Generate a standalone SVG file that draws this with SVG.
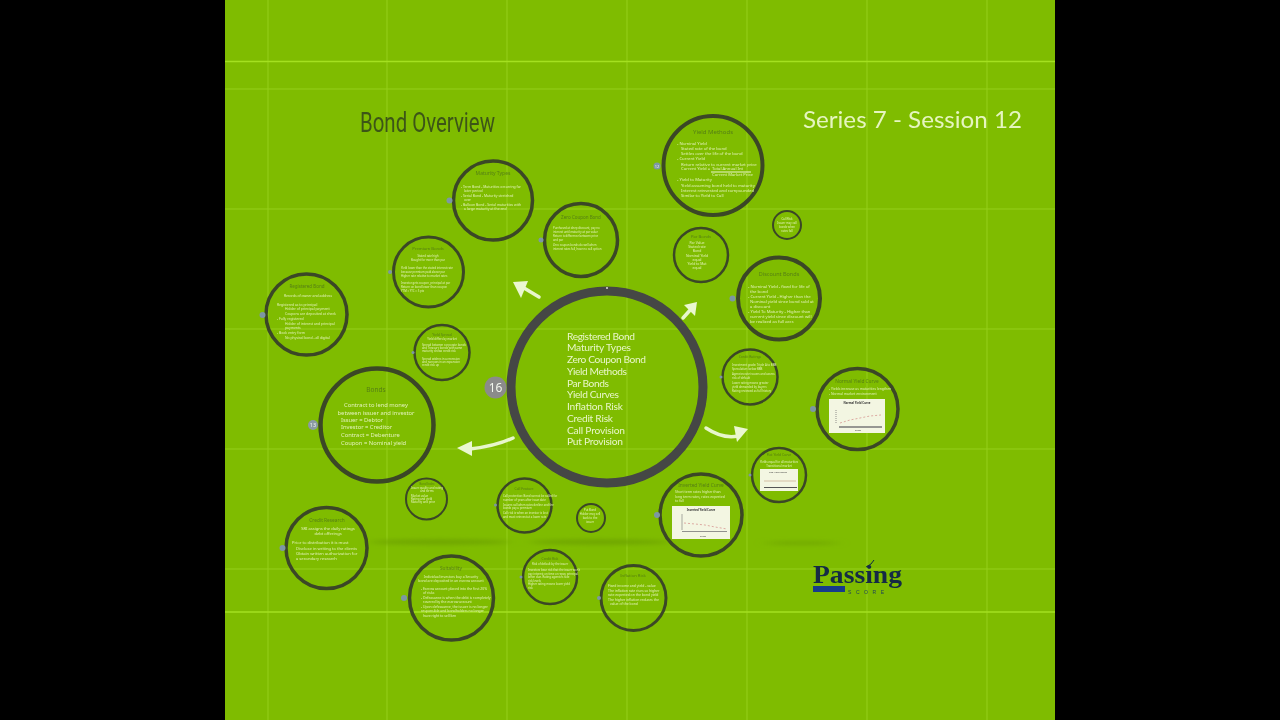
<svg xmlns="http://www.w3.org/2000/svg" width="1280" height="720" viewBox="0 0 1280 720">
<style>
text{font-family:"Noto Sans","Liberation Sans",sans-serif;fill:#e2f2b8}
.ring{fill:none;stroke:#3b4726}
.big{fill:none;stroke:#444644;stroke-width:9}
.title{fill:#557f12;text-anchor:middle}
.mid{text-anchor:middle}
.hero{font-family:"Lato",sans-serif;fill:#e8f6c8}
.hd{font-family:"Lato",sans-serif;fill:#e6f5c0}
.badge{fill:#7d97a4}
.bt{fill:#f2f6ee;text-anchor:middle}
.grid{stroke:#a4dc2c;stroke-width:1;opacity:.6}
.grid2{stroke:#a4e020;stroke-width:1.500}
.arrow{fill:none;stroke:#e8f6cc;stroke-width:3.500;stroke-linecap:round}
.head{fill:#eaf7d0}
.chart{fill:#f3f6e2}
.s42{font-size:4.2px}.s47{font-size:4.6px}.s36{font-size:3.4px}.s3{font-size:2.8px}
</style>
<defs>
<filter id="blur" x="-20%" y="-400%" width="140%" height="900%"><feGaussianBlur stdDeviation="6 2"/></filter>
<filter id="soft" filterUnits="userSpaceOnUse" x="0" y="0" width="1280" height="720"><feGaussianBlur stdDeviation=".35"/></filter>
</defs>
<rect width="1280" height="720" fill="#000"/>
<rect x="225" width="830" height="720" fill="#7fbc00"/>
<g id="grid">
<path class="grid" d="M268 0V720M387 0V720M507 0V720M627 0V720M747 0V720M867 0V720M987 0V720M225 89H1055M225 209H1055M225 329H1055M225 449H1055M225 569H1055"/>
<path class="grid2" d="M225 61.500H1055M225 612H1055"/>
</g>
<g id="shadows" filter="url(#blur)" fill="#6ea404">
<ellipse cx="440" cy="542" rx="70" ry="2.500"/>
<ellipse cx="600" cy="542" rx="70" ry="2.500"/>
<ellipse cx="802" cy="543" rx="38" ry="1.500"/>
</g>
<g id="diagram" filter="url(#soft)">
<text id="heading" x="360" y="132" font-size="27" style="font-family:'Roboto',sans-serif;fill:#3c5518" textLength="135" lengthAdjust="spacingAndGlyphs">Bond Overview</text>
<text id="session" class="hd" x="803" y="128" font-size="24" textLength="219" lengthAdjust="spacingAndGlyphs">Series 7 - Session 12</text>

<g id="connectors">
<path class="arrow" d="M539 297L524 288"/><path class="head" d="M513 282L528 281L521 298Z"/>
<path class="arrow" d="M683 318L692 308"/><path class="head" d="M697 302L695 316L684 305Z"/>
<path class="arrow" d="M706 428C718 436 728 438 738 436"/><path class="head" d="M748 429L734 426L737 442Z"/>
<path class="arrow" d="M513 438C500 444 488 447 470 449"/><path class="head" d="M457 448L472 441L472 456Z"/>
</g>

<g id="center">
<circle class="big" cx="607" cy="387" r="96"/>
<circle cx="607" cy="288" r="1" fill="#ddd"/>
<g font-size="10.200">
<text class="hero" x="567" y="339.500" textLength="68">Registered Bond</text>
<text class="hero" x="567" y="351" textLength="64">Maturity Types</text>
<text class="hero" x="567" y="363" textLength="79">Zero Coupon Bond</text>
<text class="hero" x="567" y="374.500" textLength="60">Yield Methods</text>
<text class="hero" x="567" y="386.500" textLength="42">Par Bonds</text>
<text class="hero" x="567" y="398" textLength="52">Yield Curves</text>
<text class="hero" x="567" y="410" textLength="56">Inflation Risk</text>
<text class="hero" x="567" y="421.500" textLength="46">Credit Risk</text>
<text class="hero" x="567" y="433.500" textLength="58">Call Provision</text>
<text class="hero" x="567" y="445" textLength="56">Put Provision</text>
</g>
<circle cx="495.500" cy="387.500" r="11" fill="#8b8b8b"/>
<text class="bt" x="495.500" y="392" font-size="12">16</text>
</g>

<g id="yield-methods">
<circle class="ring" cx="713" cy="165.500" r="49.500" stroke-width="4"/>
<circle class="badge" cx="657" cy="166" r="3.500"/>
<text class="bt" x="657" y="167.500" font-size="4">12</text>
<text class="title" x="713" y="134" font-size="6">Yield Methods</text>
<g class="s42">
<text x="677" y="145">- Nominal Yield</text>
<text x="681" y="150">Stated rate of the bond</text>
<text x="681" y="155">Settles over the life of the bond</text>
<text x="677" y="160">- Current Yield</text>
<text x="681" y="166">Return relative to current market price</text>
<text x="681" y="170">Current Yield =</text>
<text x="712" y="170">Total Annual Int</text>
<text x="712" y="176">Current Market Price</text>
<text x="677" y="181">- Yield to Maturity</text>
<text x="681" y="187">Yield assuming bond held to maturity</text>
<text x="681" y="192">Interest reinvested and compounded</text>
<text x="681" y="197">Similar to Yield to Call</text>
</g>
<path d="M711 172H751" stroke="#eaf6cc" stroke-width="1"/>
</g>

<g id="small-top-right">
<circle class="ring" cx="787" cy="225" r="14" stroke-width="2"/>
<g class="s3">
<text class="mid" x="787" y="220">Call Risk</text>
<text class="mid" x="787" y="224">Issuer may call</text>
<text class="mid" x="787" y="228">bonds when</text>
<text class="mid" x="787" y="232">rates fall</text>
</g>
</g>

<g id="par-bonds">
<circle class="ring" cx="701" cy="255" r="27" stroke-width="2.500"/>
<text class="title s42" x="701" y="238">Par Bonds</text>
<g class="s36">
<text class="mid" x="697" y="244">Par Value</text>
<text class="mid" x="697" y="248">Stated rate</text>
<text class="mid" x="697" y="252">Bond</text>
<text class="mid" x="697" y="257">Nominal Yield</text>
<text class="mid" x="697" y="261">equal</text>
<text class="mid" x="697" y="265">Yield to Mat</text>
<text class="mid" x="697" y="269">equal</text>
</g>
</g>

<g id="discount-bonds">
<circle class="ring" cx="779" cy="298.500" r="41" stroke-width="4"/>
<circle class="badge" cx="732.500" cy="298.500" r="3"/>
<text class="title" x="779" y="276" font-size="5.500">Discount Bonds</text>
<g class="s42">
<text x="748" y="288">- Nominal Yield - fixed for life of</text>
<text x="750" y="293">the bond</text>
<text x="748" y="298">- Current Yield - Higher than the</text>
<text x="750" y="303">Nominal yield since bond sold at</text>
<text x="750" y="308">a discount</text>
<text x="748" y="313">- Yield To Maturity - Higher than</text>
<text x="750" y="318">current yield since discount will</text>
<text x="750" y="323">be realized as full accr.</text>
</g>
</g>

<g id="maturity-types">
<circle class="ring" cx="493" cy="200.500" r="39.500" stroke-width="3.500"/>
<circle class="badge" cx="449.500" cy="200.500" r="3"/>
<text class="title" x="493" y="175" font-size="5">Maturity Types</text>
<g class="s36">
<text x="461" y="188">- Term Bond - Maturities occurring far</text>
<text x="464" y="192">later period</text>
<text x="461" y="197">- Serial Bond - Maturity stretched</text>
<text x="464" y="201">over</text>
<text x="461" y="206">- Balloon Bond - Serial maturities with</text>
<text x="464" y="210">a large maturity at the end</text>
</g>
</g>

<g id="zero-coupon">
<circle class="ring" cx="581" cy="240" r="36.500" stroke-width="3.500"/>
<circle class="badge" cx="541" cy="240" r="2.500"/>
<text class="title" x="581" y="219" font-size="4.500">Zero Coupon Bond</text>
<g class="s3">
<text x="553" y="229">Purchased at deep discount, pay no</text>
<text x="553" y="233">interest until maturity at par value</text>
<text x="553" y="237">Return is difference between price</text>
<text x="553" y="241">and par</text>
<text x="553" y="246">Zero coupon bonds do well when</text>
<text x="553" y="250">interest rates fall, have no call option</text>
</g>
</g>

<g id="premium-bonds">
<circle class="ring" cx="428.500" cy="272" r="35" stroke-width="3"/>
<circle class="badge" cx="390" cy="272" r="2"/>
<text class="title" x="428" y="250" font-size="4.200">Premium Bonds</text>
<g class="s3">
<text class="mid" x="428" y="257">Stated rate high</text>
<text class="mid" x="428" y="261">Bought for more than par</text>
<text x="401" y="269">Yield lower than the stated interest rate</text>
<text x="401" y="273">because premium paid above par</text>
<text x="401" y="277">Higher rate relative to market rates</text>
<text x="401" y="284">Investor gets coupon, principal at par</text>
<text x="401" y="288">Return on bond lower than coupon</text>
<text x="401" y="292">YTM = YTC = 5 pts</text>
</g>
</g>

<g id="registered-bond">
<circle class="ring" cx="306.500" cy="314.500" r="40.500" stroke-width="3.500"/>
<circle class="badge" cx="262.500" cy="315" r="3"/>
<text class="title" x="307" y="288" font-size="4.500">Registered Bond</text>
<g class="s36">
<text class="mid" x="308" y="297">Records of owner and address</text>
<text x="277" y="306">Registered as to principal</text>
<text x="285" y="310">Holder of principal payment</text>
<text x="285" y="315">Coupons are deposited at check</text>
<text x="277" y="320">- Fully registered</text>
<text x="285" y="325">Holder of interest and principal</text>
<text x="285" y="329">payments</text>
<text x="277" y="334">- Book entry form</text>
<text x="285" y="339">No physical bond - all digital</text>
</g>
</g>

<g id="inflation-notes">
<circle class="ring" cx="442" cy="352.500" r="27.500" stroke-width="2.500"/>
<circle class="badge" cx="413" cy="352.500" r="1.500"/>
<text class="title s36" x="442" y="336">Yield Spread</text>
<g class="s3">
<text class="mid" x="442" y="340">Yield differs by market</text>
<text x="422" y="346">Spread between corporate bonds</text>
<text x="422" y="349">and Treasury bonds with same</text>
<text x="422" y="352">maturity shows credit risk</text>
<text x="422" y="360">Spread widens in a recession</text>
<text x="422" y="363">and narrows in an expansion</text>
<text x="422" y="366">credit risk up</text>
</g>
</g>

<g id="bonds">
<circle class="ring" cx="377" cy="425" r="56.500" stroke-width="4.500"/>
<circle cx="313" cy="425" r="5" fill="#8b9aa3"/>
<text class="bt" x="313" y="427" font-size="5.500">13</text>
<text class="title" x="376" y="392" font-size="6.500">Bonds</text>
<g font-size="5.800">
<text class="mid" x="376" y="406.500">Contract to lend money</text>
<text class="mid" x="376" y="414.500">between issuer and investor</text>
<text x="341" y="421.500">Issuer = Debtor</text>
<text x="341" y="429">Investor = Creditor</text>
<text x="341" y="437">Contract = Debenture</text>
<text x="341" y="444.500">Coupon = Nominal yield</text>
</g>
</g>

<g id="normal-yield-curve">
<circle class="ring" cx="857.500" cy="409" r="40.500" stroke-width="3.500"/>
<circle class="badge" cx="813" cy="409" r="3"/>
<text class="title" x="857" y="383" font-size="4.800">Normal Yield Curve</text>
<g class="s36">
<text x="829" y="390">- Yields increase as maturities lengthen</text>
<text x="829" y="395">- Normal market environment</text>
</g>
<rect class="chart" x="829" y="399" width="56" height="34"/>
<text class="mid" x="857" y="404" font-size="2.800" font-weight="bold" style="fill:#333">Normal Yield Curve</text>
<path d="M836 410V424" stroke="#777" stroke-width=".8" stroke-dasharray="1 1"/>
<path d="M839 427H882" stroke="#777" stroke-width="1.500"/>
<path d="M840 423L850 420L860 418L870 416L881 415" stroke="#c77" stroke-width=".6" stroke-dasharray="2 2" fill="none"/>
<text class="mid" x="858" y="431" font-size="2.500" style="fill:#333">Time</text>
</g>

<g id="call-provision">
<circle class="ring" cx="750" cy="377" r="27.500" stroke-width="2.500"/>
<circle class="badge" cx="721" cy="377" r="1.500"/>
<text class="title s36" x="750" y="358">Credit Ratings</text>
<g class="s3">
<text x="732" y="366">Investment grade: Triple A to BBB</text>
<text x="732" y="370">Speculative: below BBB</text>
<text x="732" y="375">Agencies rate issuers and assess</text>
<text x="732" y="379">risk of default</text>
<text x="732" y="384">Lower rating means greater</text>
<text x="732" y="388">yield demanded by buyers</text>
<text x="732" y="392">Rating reviewed as full history</text>
</g>
</g>

<g id="flat-yield">
<circle class="ring" cx="779" cy="475" r="27" stroke-width="2.500"/>
<circle class="badge" cx="750" cy="475" r="1.500"/>
<text class="title s36" x="779" y="456">Flat Yield Curve</text>
<text class="mid s3" x="779" y="463">Yields equal for all maturities</text>
<text class="mid s3" x="779" y="466.500">Transitional market</text>
<rect class="chart" x="760" y="469" width="38" height="22"/>
<text class="mid" x="778" y="473" font-size="2.500" style="fill:#333">Flat Yield Curve</text>
<path d="M764 481H796" stroke="#c9a98a" stroke-width=".7"/>
<path d="M764 487.500H797" stroke="#555" stroke-width="1"/>
</g>

<g id="inverted-yield">
<circle class="ring" cx="701" cy="515" r="41" stroke-width="3.500"/>
<circle class="badge" cx="657" cy="515" r="3"/>
<text class="title" x="701" y="487" font-size="4.800">Inverted Yield Curve</text>
<g class="s36">
<text x="675" y="493">Short term rates higher than</text>
<text x="675" y="497.500">long term rates, rates expected</text>
<text x="675" y="502">to fall</text>
</g>
<rect class="chart" x="672" y="506" width="58" height="33"/>
<text class="mid" x="701" y="511" font-size="2.800" font-weight="bold" style="fill:#333">Inverted Yield Curve</text>
<path d="M682 514V530" stroke="#777" stroke-width=".6"/>
<path d="M682 531.500H727" stroke="#777" stroke-width=".8"/>
<path d="M684 523L695 524L705 525L715 527L727 529" stroke="#c77" stroke-width=".6" stroke-dasharray="2 2" fill="none"/>
<text class="mid" x="703" y="536.500" font-size="2.500" style="fill:#333">Time</text>
</g>

<g id="current-yield">
<circle class="ring" cx="326.500" cy="548" r="40.500" stroke-width="3.500"/>
<circle class="badge" cx="282.500" cy="548" r="3"/>
<text class="title" x="327" y="522" font-size="4.800">Credit Research</text>
<g font-size="4.100">
<text class="mid" x="328" y="530">SRI assigns the daily ratings</text>
<text class="mid" x="328" y="535">debt offerings</text>
<text x="292" y="544">Prior to distribution it is must</text>
<text x="296" y="550">Disclose in writing to the clients</text>
<text x="296" y="555">Obtain written authorization for</text>
<text x="296" y="560">a secondary research</text>
</g>
</g>

<g id="small-left">
<circle class="ring" cx="426.500" cy="499" r="20.500" stroke-width="2"/>
<text class="title s3" x="427" y="485">Bond Index</text>
<g class="s3">
<text class="mid" x="427" y="489">Issuer quality and rating</text>
<text class="mid" x="427" y="492">and terms</text>
<text x="411" y="497">Market value</text>
<text x="411" y="500">Rating and yield</text>
<text x="411" y="503">Maturity and price</text>
</g>
</g>

<g id="municipal">
<circle class="ring" cx="451.500" cy="598" r="42" stroke-width="3.500"/>
<circle class="badge" cx="404" cy="598" r="3"/>
<text class="title" x="451" y="570" font-size="4.800">Suitability</text>
<g class="s36">
<text class="mid" x="451" y="578">Individual investors buy a Security</text>
<text class="mid" x="451" y="582">bond are deposited in an escrow account</text>
<text x="421" y="590">- Escrow account placed into the first 20%</text>
<text x="423" y="594">of risks</text>
<text x="421" y="599">- Defeasance is when the debt is completely</text>
<text x="423" y="603">covered by the escrow account</text>
<text x="421" y="608">- Upon defeasance, the issuer is no longer</text>
<text x="421" y="612">responsible and bondholders no longer</text>
<text x="423" y="617">have right to sell lien</text>
</g>
</g>

<g id="call-features">
<circle class="ring" cx="524.500" cy="505.500" r="27" stroke-width="2.500"/>
<circle class="badge" cx="495.500" cy="505" r="1.500"/>
<text class="title s36" x="524" y="490">Call Feature</text>
<g class="s3">
<text x="503" y="497">Call protection: Bond cannot be called for</text>
<text x="503" y="500.500">number of years after issue date</text>
<text x="503" y="505.500">Issuers call when rates decline and the</text>
<text x="503" y="509">bonds pay a premium</text>
<text x="503" y="514">Call risk is when an investor is lost</text>
<text x="503" y="517.500">and must reinvest at a lower rate</text>
</g>
</g>

<g id="small-bottom">
<circle class="ring" cx="591" cy="518" r="14" stroke-width="2"/>
<g class="s3">
<text class="mid" x="590" y="511">Put Bond</text>
<text class="mid" x="590" y="515">Holder may sell</text>
<text class="mid" x="590" y="519">back to the</text>
<text class="mid" x="590" y="523">issuer</text>
</g>
</g>

<g id="put-provision">
<circle class="ring" cx="550" cy="577" r="27" stroke-width="2.500"/>
<circle class="badge" cx="521" cy="577" r="1.500"/>
<text class="title s36" x="550" y="560">Credit Risk</text>
<text class="mid s3" x="550" y="565">Risk of default by the issuer</text>
<g class="s3">
<text x="528" y="571">Investors bear risk that the issuer won't</text>
<text x="528" y="574.500">pay interest on time or repay principal</text>
<text x="528" y="578">when due. Rating agencies rate</text>
<text x="528" y="581.500">risk levels</text>
<text x="528" y="585">Higher rating means lower yield</text>
<text x="528" y="588.500">risk</text>
</g>
</g>

<g id="inflation-risk">
<circle class="ring" cx="633.500" cy="598" r="32.500" stroke-width="3"/>
<circle class="badge" cx="599" cy="598" r="2"/>
<text class="title" x="633" y="577" font-size="4.200">Inflation Risk</text>
<g class="s36">
<text x="608" y="587">Fixed income and yield - value</text>
<text x="608" y="592">The inflation rate rises so higher</text>
<text x="608" y="596">rate expected on the bond yield</text>
<text x="608" y="601">The higher inflation reduces the</text>
<text x="610" y="605">value of the bond</text>
</g>
</g>

<g id="logo">
<text x="813" y="583" font-size="25" textLength="89" lengthAdjust="spacingAndGlyphs" style="font-family:'Liberation Serif',serif;fill:#122b45;font-weight:bold">Passing</text>
<path d="M866 567L871 564L874 560" fill="none" stroke="#122b45" stroke-width="1"/>
<rect x="813" y="586" width="32" height="6" fill="#123a8c"/>
<text x="848" y="593.500" font-size="5" textLength="36" style="font-family:'Liberation Sans',sans-serif;fill:#1d3d5c">SCORE</text>
</g>
</g>
</svg>
